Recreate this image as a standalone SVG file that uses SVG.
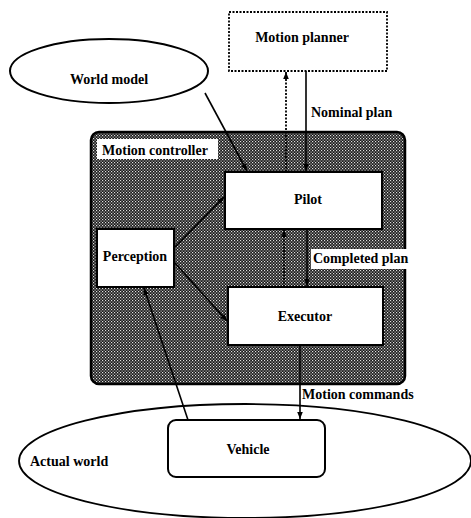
<svg xmlns="http://www.w3.org/2000/svg" width="471" height="518" viewBox="0 0 471 518">
<defs>
<pattern id="hatch" width="3" height="3" patternUnits="userSpaceOnUse">
<rect width="3" height="3" fill="#1a1a1a"/>
<rect x="0" y="0" width="1.2" height="1.2" fill="#e0e0e0"/>
<rect x="1.5" y="1.5" width="1.2" height="1.2" fill="#c8c8c8"/>
</pattern>
<marker id="arr" viewBox="0 0 8 8" refX="8" refY="4" markerWidth="7" markerHeight="7" orient="auto" markerUnits="userSpaceOnUse">
<path d="M0,0.8 L8,4 L0,7.2 Z" fill="#000"/>
</marker>
</defs>
<style>
text{font-family:"Liberation Serif","Times New Roman",serif;font-weight:bold;font-size:14px;fill:#000}
.box{fill:#fff;stroke:#000;stroke-width:2}
.line{fill:none;stroke:#000;stroke-width:1.6}
.dot{fill:none;stroke:#000;stroke-width:1.8;stroke-dasharray:2 1.5}
.mid{text-anchor:middle}
</style>

<g id="actual-world">
<ellipse cx="245" cy="461" rx="226" ry="57" fill="#fff" stroke="#000" stroke-width="1.8"/>
<text x="30" y="466">Actual world</text>
</g>

<g id="motion-controller">
<rect x="91" y="132" width="314" height="252" rx="8" fill="url(#hatch)" stroke="#000" stroke-width="2.5"/>
<rect x="97" y="139" width="121" height="20" fill="#fff"/>
<text x="102" y="155">Motion controller</text>
</g>

<g id="motion-planner">
<rect x="229" y="12" width="158" height="59" fill="#fff" stroke="#000" stroke-width="1.8" stroke-dasharray="2 1.5"/>
<text class="mid" x="302" y="42">Motion planner</text>
</g>

<g id="world-model">
<ellipse cx="109" cy="71" rx="99" ry="32" fill="#fff" stroke="#000" stroke-width="2"/>
<text class="mid" x="109" y="84">World model</text>
</g>

<g id="pilot">
<rect class="box" x="225" y="172" width="157" height="57"/>
<text class="mid" x="308" y="204">Pilot</text>
</g>

<g id="perception">
<rect class="box" x="97" y="229" width="77" height="58"/>
<text class="mid" x="135" y="261">Perception</text>
</g>

<g id="executor">
<rect class="box" x="228" y="287" width="155" height="58"/>
<text class="mid" x="305" y="321">Executor</text>
</g>

<g id="vehicle">
<rect class="box" x="168" y="420" width="157" height="57" rx="8"/>
<text class="mid" x="248" y="454">Vehicle</text>
</g>

<g id="connectors">
<line class="dot" x1="286" y1="172" x2="286" y2="72" marker-end="url(#arr)"/>
<line class="line" x1="306" y1="71" x2="306" y2="171" marker-end="url(#arr)"/>
<text x="311" y="117">Nominal plan</text>
<line class="line" x1="205" y1="93" x2="247" y2="171" marker-end="url(#arr)"/>
<line class="line" x1="175" y1="247" x2="224" y2="197" marker-end="url(#arr)"/>
<line class="line" x1="175" y1="263" x2="227" y2="321" marker-end="url(#arr)"/>
<line class="dot" x1="284" y1="287" x2="284" y2="230" marker-end="url(#arr)"/>
<line class="line" x1="307" y1="229" x2="307" y2="286" marker-end="url(#arr)"/>
<rect x="311" y="249" width="105" height="20" fill="#fff"/>
<text x="313" y="263">Completed plan</text>
<line class="line" x1="300" y1="345" x2="300" y2="419" marker-end="url(#arr)"/>
<text x="302" y="399">Motion commands</text>
<line class="line" x1="188" y1="420" x2="144" y2="288" marker-end="url(#arr)"/>
</g>
</svg>
